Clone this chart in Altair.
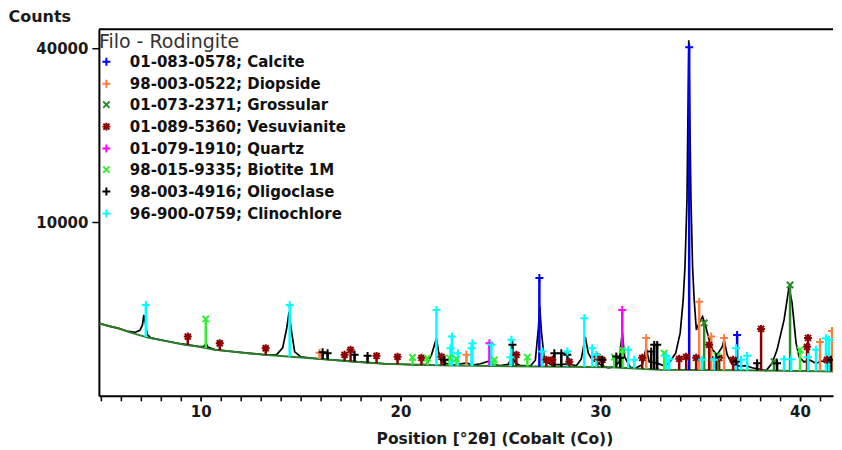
import altair as alt
import numpy as np
import pandas as pd

# ---------------- observed pattern (black) ----------------
pattern_pos = [4.85, 5.4, 5.85, 6.3, 6.7, 6.95, 7.08, 7.15, 7.22, 7.32, 7.5, 8.2, 9.05, 9.85,
               10.15, 10.27, 10.35, 10.7, 11.55, 12.35, 13.2, 13.8, 14.1, 14.3, 14.42, 14.52,
               14.7, 15.0, 15.85, 16.5, 17.55, 18.4, 19.2, 20.0, 20.85, 21.3, 21.55, 21.8,
               21.9, 22.05, 22.55, 22.9, 23.3, 23.6, 24.0, 24.45, 24.6, 25.0, 25.4, 25.6,
               25.75, 26.0, 26.5, 26.75, 26.9, 26.97, 27.05, 27.2, 27.5, 28.0, 28.4, 28.8,
               29.05, 29.25, 29.4, 29.6, 29.8, 30.1, 30.4, 30.7, 30.95, 31.1, 31.22, 31.5,
               31.8, 32.1, 32.3, 32.45, 32.8, 33.2, 33.45, 33.78, 34.0, 34.15, 34.24, 34.34,
               34.43, 34.54, 34.62, 34.7, 34.81, 34.95, 35.12, 35.28, 35.45, 35.62, 35.85,
               36.1, 36.2, 36.35, 36.6, 37.0, 37.3, 37.6, 38.0, 38.3, 38.6, 38.85, 39.2,
               39.45, 39.6, 39.8, 39.95, 40.2, 40.5, 40.8, 41.1, 41.4, 41.7]
pattern_counts = [1760, 1610, 1520, 1390, 1330, 1420, 1650, 2170, 1800, 1250, 1110, 1005, 890, 810,
                  800, 900, 790, 705, 650, 605, 558, 560, 760, 1500, 2330, 1500,
                  640, 505, 455, 430, 392, 365, 340, 330, 318, 330, 555, 1100,
                  650, 389, 310, 330, 360, 310, 340, 400, 320, 300, 330, 520,
                  360, 300, 295, 420, 1500, 2650, 1400, 420, 330, 320, 340, 300,
                  450, 1150, 600, 420, 380, 300, 260, 280, 380, 1350, 500, 270,
                  260, 320, 760, 380, 360, 300, 360, 611, 1311, 3044, 5522, 12689,
                  41860, 12689, 5522, 3044, 1439, 1760, 2077, 1586, 1036, 699, 555,
                  793, 1036, 560, 330, 290, 300, 260, 230, 210, 350, 699, 1908,
                  3924, 2857, 928, 502, 380, 420, 350, 400, 360, 420]

# ---------------- background (green) ----------------
bg_pos = [4.85, 5.85, 6.5, 7.35, 8.2, 9.05, 9.85, 10.7, 11.55, 12.35, 13.2, 14.35,
          15.85, 17.55, 19.2, 20.85, 22.55, 23.7, 27.0, 30.5, 33.0, 37.0, 41.0, 41.7]
bg_counts = [1746, 1514, 1323, 1122, 999, 883, 803, 699, 648, 602, 555, 510,
             452, 389, 338, 317, 303, 297, 284, 270, 225, 215, 200, 197]

# ---------------- reference phases (sticks) ----------------
phases = ["01-083-0578; Calcite", "98-003-0522; Diopside", "01-073-2371; Grossular",
          "01-089-5360; Vesuvianite", "01-079-1910; Quartz", "98-015-9335; Biotite 1M",
          "98-003-4916; Oligoclase", "96-900-0759; Clinochlore"]
phase_colors = ["#0000ff", "#ff7f40", "#2a8a2a", "#8b0000", "#ff00ff", "#33ee33", "#000000", "#00ffff"]

calcite_pos = [26.95, 34.45, 36.85]
calcite_int = [4599, 40231, 1229]
diopside_pos = [15.95, 23.3, 32.3, 34.95, 35.55, 36.2, 41.0, 41.6]
diopside_int = [611, 555, 1111, 2934, 1163, 1111, 963, 1395]
grossular_pos = [35.2, 38.7, 39.5]
grossular_int = [1760, 389, 4070]
vesuvianite_pos = [9.35, 10.95, 13.25, 17.2, 17.5, 18.8, 19.85, 21.05, 22.05, 25.8, 27.3, 27.6,
                   28.45, 29.85, 30.1, 32.1, 33.95, 34.3, 34.8, 35.45, 35.95, 36.65, 38.05,
                   40.35, 40.4, 41.35]
vesuvianite_int = [1161, 917, 751, 555, 699, 528, 502, 477, 502, 555, 428, 428,
                   382, 502, 428, 477, 452, 502, 477, 859, 477, 428, 1483,
                   793, 1111, 428]
quartz_pos = [24.45, 31.1]
quartz_int = [917, 2443]
biotite_pos = [10.25, 20.6, 21.35, 22.45, 22.8, 24.7, 26.35, 30.7, 31.1, 33.2, 35.85, 40.0]
biotite_int = [1958, 486, 469, 477, 450, 428, 495, 495, 699, 602, 528, 699]
oligoclase_pos = [16.1, 16.35, 17.7, 18.35, 22.2, 25.6, 27.7, 28.05, 28.35, 30.1, 30.8, 31.0,
                  32.55, 32.7, 32.85, 35.8, 36.8, 37.85, 38.85, 41.55]
oligoclase_int = [630, 602, 555, 528, 428, 859, 602, 602, 555, 428, 510, 480,
                  648, 859, 859, 495, 389, 352, 352, 428]
clinochlore_pos = [7.25, 14.45, 21.8, 22.5, 22.57, 22.87, 23.55, 23.6, 24.55, 25.55, 25.5,
                   27.1, 28.35, 29.2, 29.6, 29.8, 31.4, 31.7, 33.3, 33.45, 35.1, 35.7,
                   36.8, 37.05, 37.35, 39.2, 39.55, 40.4, 40.8, 41.3, 41.45]
clinochlore_int = [2735, 2735, 2443, 751, 1161, 602, 751, 917, 859, 1036, 495,
                   648, 648, 1994, 751, 555, 699, 428, 528, 445, 428, 428,
                   751, 428, 528, 445, 445, 495, 699, 1100, 1036]

x_minor_ticks = list(range(5, 42))
x_major_ticks = [10, 20, 30, 40]
y_ticks = [10000, 40000]

phase_pos = [calcite_pos, diopside_pos, grossular_pos, vesuvianite_pos, quartz_pos,
             biotite_pos, oligoclase_pos, clinochlore_pos]
phase_int = [calcite_int, diopside_int, grossular_int, vesuvianite_int, quartz_int,
             biotite_int, oligoclase_int, clinochlore_int]

rows = []
for name, ps, ints in zip(phases, phase_pos, phase_int):
    for p, v in zip(ps, ints):
        rows.append({"phase": name, "pos": p, "top": v,
                     "base": float(np.interp(p, bg_pos, bg_counts))})
sticks = pd.DataFrame(rows)

plus = "M-1,0L1,0M0,-1L0,1"
xmark = "M-0.8,-0.8L0.8,0.8M-0.8,0.8L0.8,-0.8"
star = "M-1,0L1,0M0,-1L0,1M-0.75,-0.75L0.75,0.75M-0.75,0.75L0.75,-0.75"
phase_shapes = [plus, plus, xmark, star, plus, xmark, plus, plus]

pat_df = pd.DataFrame({"pos": pattern_pos, "counts": pattern_counts})
bg_df = pd.DataFrame({"pos": bg_pos, "counts": bg_counts})

FONT = "DejaVu Sans"
x_scale = alt.Scale(domain=[4.9, 41.65], nice=False, zero=False)
y_scale = alt.Scale(type="sqrt", domain=[0, 44500], nice=False)
color_scale = alt.Scale(domain=phases, range=phase_colors)
shape_scale = alt.Scale(domain=phases, range=phase_shapes)
legend = alt.Legend(title="Filo - Rodingite", orient="none", legendX=0, legendY=4)

x_axis = alt.Axis(values=x_major_ticks, format="d", orient="bottom",
                  labelOverlap=False,
                  tickSize=5, tickWidth=1.5, tickColor="black",
                  domainColor="black", domainWidth=2, grid=False,
                  labelFont=FONT, labelFontWeight="bold", labelFontSize=15, labelColor="#1a1a1a",
                  labelPadding=4,
                  title="Position [°2θ] (Cobalt (Co))", titleFont=FONT, titleFontSize=15.5,
                  titleFontWeight="bold", titleColor="#1a1a1a", titlePadding=12, titleX=396)
x_minor_axis = alt.Axis(values=x_minor_ticks, orient="bottom", labels=False, title=None,
                        domain=False, grid=False, tickSize=5, tickWidth=1.5, tickColor="black")
y_axis = alt.Axis(values=y_ticks, format="d", tickSize=7, tickWidth=1.5, tickColor="black",
                  domainColor="black", domainWidth=2, grid=False, labelOverlap=False,
                  labelFont=FONT, labelFontWeight="bold", labelFontSize=15, labelColor="#1a1a1a",
                  labelPadding=4,
                  title="Counts", titleFont=FONT, titleFontSize=16, titleFontWeight="bold",
                  titleColor="#1a1a1a", titleAngle=0, titleAlign="left", titleBaseline="middle",
                  titleX=-91, titleY=-13)

pattern = alt.Chart(pat_df).mark_line(color="black", strokeWidth=1.7, clip=True).encode(
    x=alt.X("pos:Q", scale=x_scale, axis=x_axis),
    y=alt.Y("counts:Q", scale=y_scale, axis=y_axis),
)
background = alt.Chart(bg_df).mark_line(color="#2a7d2a", strokeWidth=2, clip=True).encode(
    x=alt.X("pos:Q", scale=x_scale, axis=x_minor_axis),
    y=alt.Y("counts:Q", scale=y_scale),
)
stick_rules = alt.Chart(sticks).mark_rule(strokeWidth=2.5, clip=True).encode(
    x=alt.X("pos:Q", scale=x_scale, axis=None),
    y=alt.Y("top:Q", scale=y_scale),
    y2="base:Q",
    color=alt.Color("phase:N", scale=color_scale, legend=legend),
)
markers = alt.Chart(sticks).mark_point(filled=False, strokeWidth=2, size=64, opacity=1,
                                       clip=True).encode(
    x=alt.X("pos:Q", scale=x_scale, axis=None),
    y=alt.Y("top:Q", scale=y_scale),
    color=alt.Color("phase:N", scale=color_scale, legend=legend),
    shape=alt.Shape("phase:N", scale=shape_scale, legend=legend),
)
frame_top = alt.Chart(pd.DataFrame({"a": [0]})).mark_rule(color="black", strokeWidth=2).encode(
    y=alt.value(0))

chart = alt.layer(pattern, background, stick_rules, markers, frame_top).resolve_axis(
    x="independent"
).properties(
    width=735, height=367,
    padding={"left": 0, "top": 0, "right": 0, "bottom": 4},
    background="white",
).configure_view(strokeWidth=0).configure_legend(
    padding=0,
    titleFont=FONT, titleFontSize=19, titleFontWeight="normal", titleColor="#333333",
    titlePadding=2,
    labelFont=FONT, labelFontSize=15, labelFontWeight="bold", labelColor="#111111",
    labelOffset=16, labelLimit=400, rowPadding=5,
    symbolSize=64, symbolStrokeWidth=2, symbolFillColor="transparent",
)

chart.save("out.html", embed_options={"renderer": "svg", "actions": False})
